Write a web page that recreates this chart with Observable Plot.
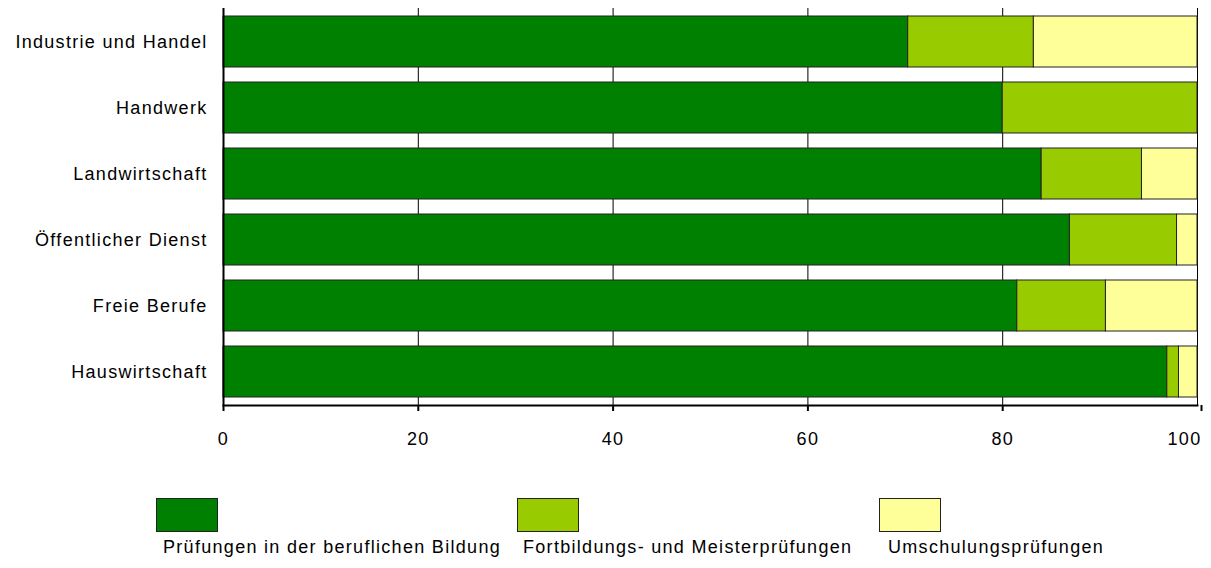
<!DOCTYPE html>
<html>
<head>
<meta charset="utf-8">
<script src="https://cdn.jsdelivr.net/npm/d3@7"></script>
<script src="https://cdn.jsdelivr.net/npm/@observablehq/plot@0.6"></script>
<style>
  html, body { margin: 0; padding: 0; background: #fff; }
  #wrap { position: relative; width: 1211px; height: 568px; font-family: "Liberation Sans", Arial, sans-serif; }
  #wrap svg text { letter-spacing: 1.3px; }
  .sw { position: absolute; width: 60px; height: 32px; border: 1px solid #222; box-sizing: content-box; }
  .lab { position: absolute; font-size: 18px; color: #000; white-space: nowrap; letter-spacing: 1.3px; }
</style>
</head>
<body>
<div id="wrap"></div>
<script>
const categories = ["Industrie und Handel", "Handwerk", "Landwirtschaft", "Öffentlicher Dienst", "Freie Berufe", "Hauswirtschaft"];
const seriesNames = ["Prüfungen in der beruflichen Bildung", "Fortbildungs- und Meisterprüfungen", "Umschulungsprüfungen"];
const seriesColors = ["#008000", "#99CC00", "#FFFF99"];
const pruefungen = [70.3, 80.0, 84.0, 86.9, 81.5, 96.9];
const fortbildung = [12.9, 20.0, 10.3, 11.0, 9.1, 1.2];
const umschulung = [16.8, 0.0, 5.7, 2.1, 9.4, 1.9];
const xTicks = [0, 20, 40, 60, 80];
const xTickLast = [100];
const gridTicks = [20, 40, 60, 80, 100];

const seriesValues = [pruefungen, fortbildung, umschulung];
const data = [];
categories.forEach((c, i) => {
  seriesNames.forEach((s, j) => {
    data.push({category: c, series: s, value: seriesValues[j][i]});
  });
});

const chart = Plot.plot({
  width: 1211,
  height: 460,
  marginLeft: 223,
  marginRight: 14,
  marginTop: 8,
  marginBottom: 55,
  style: {fontFamily: '"Liberation Sans", Arial, sans-serif', fontSize: "18px", color: "#000", background: "#fff"},
  x: {domain: [0, 100]},
  y: {domain: categories, paddingInner: 0.232, paddingOuter: 0.116},
  color: {domain: seriesNames, range: seriesColors},
  marks: [
    Plot.ruleX(gridTicks, {stroke: "#000", strokeWidth: 1}),
    Plot.barX(data, Plot.stackX({x: "value", y: "category", fill: "series", order: seriesNames, stroke: "#222", strokeWidth: 1})),
    Plot.ruleX([0], {stroke: "#000", strokeWidth: 2}),
    Plot.frame({anchor: "bottom", stroke: "#000", strokeWidth: 2}),
    Plot.axisX({ticks: xTicks, tickSize: 6, tickPadding: 21, tickFormat: d => String(d), stroke: "#000", strokeWidth: 2, fill: "#000", fontSize: 18, label: null}),
    Plot.axisX({ticks: xTickLast, tickSize: 6, tickPadding: 21, tickFormat: d => String(d), stroke: "#000", strokeWidth: 2, fill: "#000", fontSize: 18, label: null, textAnchor: "end", dx: 4}),
    Plot.axisY({tickSize: 0, tickPadding: 16, fill: "#000", fontSize: 18, label: null})
  ]
});

const wrap = document.getElementById("wrap");
wrap.appendChild(chart);

const swatchX = [156, 517, 879];
const labelX = [163, 523, 888];
seriesNames.forEach((s, i) => {
  const sw = document.createElement("div");
  sw.className = "sw";
  sw.style.left = swatchX[i] + "px";
  sw.style.top = "498px";
  sw.style.background = seriesColors[i];
  wrap.appendChild(sw);
  const lb = document.createElement("div");
  lb.className = "lab";
  lb.style.left = labelX[i] + "px";
  lb.style.top = "537px";
  lb.textContent = s;
  wrap.appendChild(lb);
});
</script>
</body>
</html>
